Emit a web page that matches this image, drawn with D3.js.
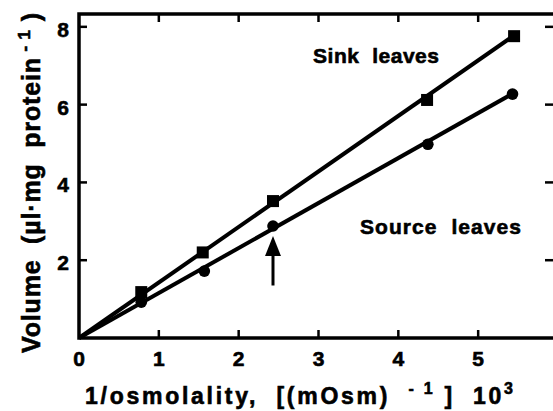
<!DOCTYPE html>
<html>
<head>
<meta charset="utf-8">
<script src="https://cdn.jsdelivr.net/npm/d3@7"></script>
<style>
  body { margin: 0; background: #fff; }
  svg { display: block; }
  text { font-family: "Liberation Sans", Arial, sans-serif; font-weight: bold; fill: #000; stroke: #000; stroke-width: 0.6; }
</style>
</head>
<body>
<svg id="chart" width="553" height="411"></svg>
<script>
// data
var sinkX = [0.78, 1.55, 2.43, 4.36, 5.45];
var sinkY = [1.18, 2.2, 3.52, 6.12, 7.76];
var sourceX = [0.78, 1.57, 2.43, 4.37, 5.43];
var sourceY = [0.92, 1.72, 2.88, 4.98, 6.27];
// fitted lines (through origin)
var sinkLine = [[0, 0], [5.45, 7.78]];
var sourceLine = [[0, 0], [5.43, 6.28]];
var xTicks = [0, 1, 2, 3, 4, 5];
var yTicks = [2, 4, 6, 8];
var arrowAt = {x: 2.43, from: 1.35, to: 2.62};

var svg = d3.select("#chart");

var x = d3.scaleLinear().domain([0, 6]).range([79, 558]);
var y = d3.scaleLinear().domain([0, 8.33]).range([338, 14]);

// frame
svg.append("rect")
  .attr("x", x(0)).attr("y", y(8.33))
  .attr("width", x(6) - x(0)).attr("height", y(0) - y(8.33))
  .attr("fill", "none").attr("stroke", "#000").attr("stroke-width", 3.5);

// ticks, all pointing inward
var tickLen = 8;
svg.append("g").selectAll("line").data(xTicks.slice(1)).enter().append("line")
  .attr("x1", d => x(d)).attr("x2", d => x(d))
  .attr("y1", y(0)).attr("y2", y(0) - tickLen)
  .attr("stroke", "#000").attr("stroke-width", 2.5);
svg.append("g").selectAll("line").data(xTicks.slice(1)).enter().append("line")
  .attr("x1", d => x(d)).attr("x2", d => x(d))
  .attr("y1", y(8.33)).attr("y2", y(8.33) + tickLen)
  .attr("stroke", "#000").attr("stroke-width", 2.5);
svg.append("g").selectAll("line").data(yTicks).enter().append("line")
  .attr("x1", x(0)).attr("x2", x(0) + tickLen)
  .attr("y1", d => y(d)).attr("y2", d => y(d))
  .attr("stroke", "#000").attr("stroke-width", 2.5);
svg.append("g").selectAll("line").data(yTicks).enter().append("line")
  .attr("x1", x(6)).attr("x2", x(6) - tickLen - 5)
  .attr("y1", d => y(d)).attr("y2", d => y(d))
  .attr("stroke", "#000").attr("stroke-width", 2.5);

// tick labels
svg.append("g").selectAll("text").data(xTicks).enter().append("text")
  .attr("x", d => x(d)).attr("y", 366)
  .attr("text-anchor", "middle").attr("font-size", 21)
  .text(d => d);
svg.append("g").selectAll("text").data(yTicks).enter().append("text")
  .attr("x", 69).attr("y", d => y(d) + 10)
  .attr("text-anchor", "end").attr("font-size", 21)
  .text(d => d);

// lines
var line = d3.line().x(d => x(d[0])).y(d => y(d[1]));
[sinkLine, sourceLine].forEach(function(l){
  svg.append("path").attr("d", line(l))
    .attr("fill", "none").attr("stroke", "#000").attr("stroke-width", 4);
});

// markers
var sink = d3.zip(sinkX, sinkY);
var source = d3.zip(sourceX, sourceY);
svg.append("g").selectAll("rect").data(sink).enter().append("rect")
  .attr("x", d => x(d[0]) - 6).attr("y", d => y(d[1]) - 6)
  .attr("width", 12).attr("height", 12).attr("fill", "#000");
svg.append("g").selectAll("circle").data(source).enter().append("circle")
  .attr("cx", d => x(d[0])).attr("cy", d => y(d[1]))
  .attr("r", 5.8).attr("fill", "#000");

// arrow
svg.append("line")
  .attr("x1", x(arrowAt.x)).attr("x2", x(arrowAt.x))
  .attr("y1", y(arrowAt.from)).attr("y2", y(arrowAt.to) + 12)
  .attr("stroke", "#000").attr("stroke-width", 3);
var ax = x(arrowAt.x), ay = y(arrowAt.to);
svg.append("path")
  .attr("d", "M" + ax + "," + ay + "L" + (ax - 8) + "," + (ay + 20) + "L" + (ax + 8) + "," + (ay + 20) + "Z")
  .attr("fill", "#000");

// series labels
svg.append("text").attr("x", 313).attr("y", 63).attr("font-size", 21)
  .attr("textLength", 126).attr("lengthAdjust", "spacing")
  .attr("xml:space", "preserve").text("Sink  leaves");
svg.append("text").attr("x", 360).attr("y", 234).attr("font-size", 21)
  .attr("textLength", 161).attr("lengthAdjust", "spacing")
  .attr("xml:space", "preserve").text("Source  leaves");

// axis titles
var xt = svg.append("text").attr("x", 85).attr("y", 404)
  .attr("font-size", 23)
  .attr("textLength", 428).attr("lengthAdjust", "spacing")
  .attr("xml:space", "preserve");
xt.append("tspan").text("1/osmolality,  [(mOsm)  ");
xt.append("tspan").attr("dy", -10).attr("font-size", 16).text("- 1");
xt.append("tspan").attr("dy", 10).text(" ]  10");
xt.append("tspan").attr("dy", -10).attr("font-size", 16).text("3");

var yt = svg.append("text")
  .attr("transform", "translate(40,353) rotate(-90)")
  .attr("font-size", 25)
  .attr("textLength", 340).attr("lengthAdjust", "spacing")
  .attr("xml:space", "preserve");
yt.append("tspan").text("Volume  (\u00b5l\u00b7mg  protein");
yt.append("tspan").attr("dy", -10).attr("font-size", 17).text(" - 1");
yt.append("tspan").attr("dy", 10).text(" )");
</script>
</body>
</html>
